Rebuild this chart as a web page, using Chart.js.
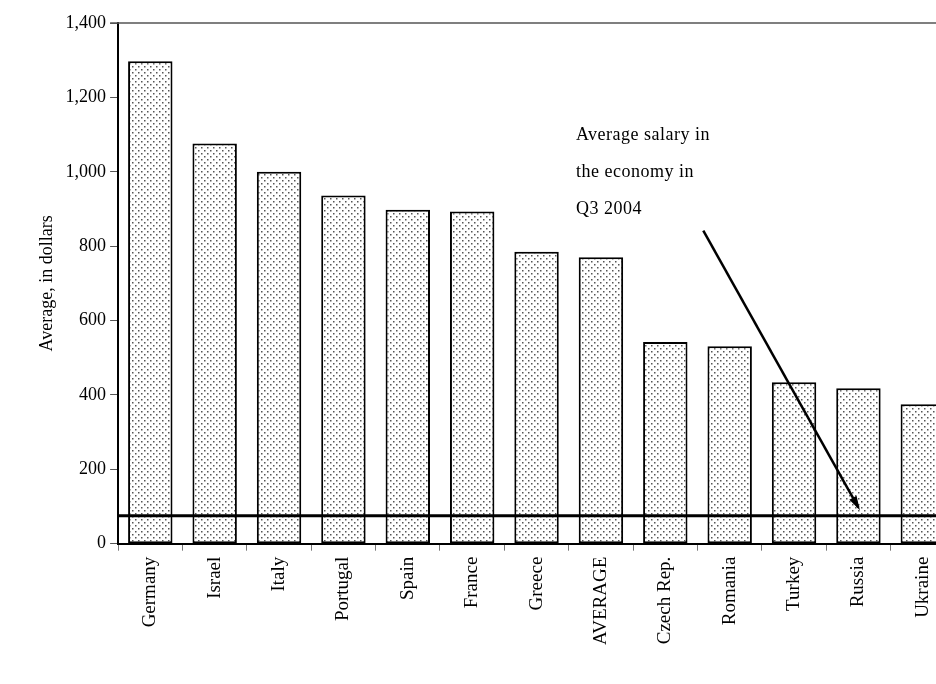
<!DOCTYPE html>
<html>
<head>
<meta charset="utf-8">
<script src="https://cdn.jsdelivr.net/npm/chart.js@4"></script>
<style>
  body { margin: 0; background: #fff; overflow: hidden; }
  #wrap { width: 955px; height: 684px; }
</style>
</head>
<body>
<div id="wrap"><canvas id="myChart"></canvas></div>
<script>
let countries = ["Germany", "Israel", "Italy", "Portugal", "Spain", "France", "Greece",
    "AVERAGE", "Czech Rep.", "Romania", "Turkey", "Russia", "Ukraine"]
let salaries = [1297, 1076, 1000, 936, 898, 893, 785, 770, 542, 531, 434, 418, 375]
let yTicks = [0, 200, 400, 600, 800, 1000, 1200, 1400]
let economySalary = 75
let noteLines = ["Average salary in", "the economy in", "Q3 2004"]

let fontName = "'Liberation Serif', 'DejaVu Serif', serif"

// small dotted fill like the print pattern
function makeDots() {
    let p = document.createElement("canvas")
    p.width = 6
    p.height = 6
    let c = p.getContext("2d")
    c.fillStyle = "#fff"
    c.fillRect(0, 0, 6, 6)
    c.fillStyle = "#555"
    c.fillRect(0, 0, 1.5, 1.5)
    c.fillRect(3, 3, 1.5, 1.5)
    return document.getElementById("myChart").getContext("2d").createPattern(p, "repeat")
}

let extras = {
    id: "extras",
    afterDatasetsDraw(chart) {
        let ctx = chart.ctx
        let x = chart.scales.x
        let y = chart.scales.y
        let area = chart.chartArea
        ctx.save()
        // top border
        ctx.strokeStyle = "#555"
        ctx.lineWidth = 1.5
        ctx.beginPath()
        ctx.moveTo(area.left - 8, area.top)
        ctx.lineTo(area.right, area.top)
        ctx.stroke()
        // economy average line
        let ly = y.getPixelForValue(economySalary)
        ctx.strokeStyle = "#000"
        ctx.lineWidth = 3
        ctx.beginPath()
        ctx.moveTo(area.left, ly)
        ctx.lineTo(area.right, ly)
        ctx.stroke()
        // note and arrow
        ctx.fillStyle = "#000"
        ctx.font = "18px " + fontName
        ctx.letterSpacing = "0.5px"
        ctx.textBaseline = "middle"
        let tx = x.getPixelForValue(7) - 25
        noteLines.forEach((t, i) => ctx.fillText(t, tx, y.getPixelForValue(1098) + i * 37))
        let x0 = x.getPixelForValue(8) + 38
        let y0 = y.getPixelForValue(842)
        let x1 = x.getPixelForValue(11)
        let y1 = y.getPixelForValue(97)
        ctx.lineWidth = 2.5
        ctx.beginPath()
        ctx.moveTo(x0, y0)
        ctx.lineTo(x1, y1)
        ctx.stroke()
        let a = Math.atan2(y1 - y0, x1 - x0)
        ctx.beginPath()
        ctx.moveTo(x1 + 3 * Math.cos(a), y1 + 3 * Math.sin(a))
        ctx.lineTo(x1 - 12 * Math.cos(a - 0.35), y1 - 12 * Math.sin(a - 0.35))
        ctx.lineTo(x1 - 12 * Math.cos(a + 0.35), y1 - 12 * Math.sin(a + 0.35))
        ctx.closePath()
        ctx.fill()
        ctx.restore()
    }
}

let config = {
    type: "bar",
    data: {
        labels: countries,
        datasets: [{
            data: salaries,
            backgroundColor: makeDots(),
            borderColor: "#000",
            borderWidth: 2,
            borderSkipped: false,
            categoryPercentage: 1,
            barPercentage: 0.69,
        }],
    },
    options: {
        responsive: true,
        maintainAspectRatio: false,
        animation: false,
        layout: { padding: { top: 23, right: 0, left: 32, bottom: 33 } },
        plugins: { legend: { display: false }, tooltip: { enabled: false } },
        scales: {
            x: {
                offset: true,
                border: { color: "#000", width: 2 },
                grid: { offset: true, drawOnChartArea: false, tickLength: 7, color: "#777" },
                ticks: {
                    maxRotation: 90, minRotation: 90, color: "#000", padding: 6,
                    font: { family: fontName, size: 19 },
                },
            },
            y: {
                min: 0,
                max: 1400,
                afterBuildTicks: (axis) => { axis.ticks = yTicks.map(v => ({ value: v })) },
                border: { color: "#000", width: 2 },
                grid: { drawOnChartArea: false, tickLength: 8, color: "#555" },
                ticks: {
                    color: "#000", padding: 4,
                    font: { family: fontName, size: 18 },
                    callback: (v) => v.toLocaleString("en-US"),
                },
                title: {
                    display: true, text: "Average, in dollars", color: "#000",
                    font: { family: fontName, size: 18 }, padding: 4,
                },
            },
        },
    },
    plugins: [extras],
}

let myChart = new Chart(document.getElementById("myChart"), config)
</script>
</body>
</html>
